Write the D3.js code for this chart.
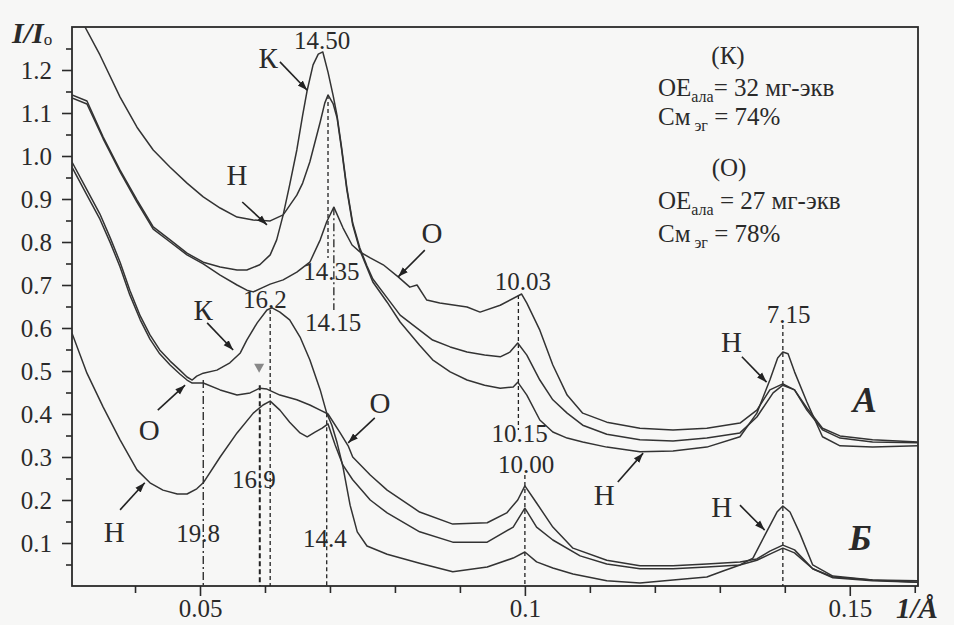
<!DOCTYPE html>
<html>
<head>
<meta charset="utf-8">
<script src="https://cdn.jsdelivr.net/npm/d3@7"></script>
<style>
  body { margin: 0; background: #f7f7f6; }
  svg { display: block; }
</style>
</head>
<body>
<svg width="954" height="625"></svg>
<script>
const width = 954;
const height = 625;
const margin = {top: 27, right: 36, bottom: 39, left: 72};
const FONT = "\"Liberation Serif\", \"Times New Roman\", serif";

// axis ticks
const xTicksMajor = [0.05, 0.1, 0.15];
const xTickLabels = ["0.05", "0.1", "0.15"];
const xTicksMinor = [0.04, 0.06, 0.07, 0.08, 0.09, 0.11, 0.12, 0.13, 0.14, 0.16];
const yTicksMajor = [0.1, 0.2, 0.3, 0.4, 0.5, 0.6, 0.7, 0.8, 0.9, 1.0, 1.1, 1.2];
const yTicksMinor = [0.05, 0.15, 0.25, 0.35, 0.45, 0.55, 0.65, 0.75, 0.85, 0.95, 1.05, 1.15, 1.25];

// group А (upper three patterns)
const curveAH = [[0.0303,1.34],[0.0323,1.300],[0.0346,1.235],[0.0377,1.137],[0.0403,1.067],[0.0428,1.014],[0.0454,0.974],[0.0480,0.937],[0.0505,0.905],[0.0531,0.879],[0.0557,0.858],[0.0582,0.851],[0.0608,0.849],[0.0628,0.863],[0.0649,0.909],[0.0658,0.937],[0.0669,0.986],[0.0685,1.079],[0.0692,1.123],[0.0697,1.142],[0.0705,1.121],[0.0711,1.088],[0.0718,1.014],[0.0726,0.921],[0.0735,0.840],[0.0746,0.781],[0.0757,0.740],[0.0766,0.707],[0.0788,0.660],[0.0808,0.614],[0.0838,0.560],[0.0858,0.526],[0.0885,0.498],[0.0911,0.479],[0.0938,0.467],[0.0962,0.460],[0.0982,0.463],[0.0989,0.474],[0.1003,0.444],[0.1023,0.386],[0.1043,0.358],[0.1065,0.344],[0.1089,0.335],[0.1126,0.323],[0.1177,0.312],[0.1228,0.314],[0.1280,0.323],[0.1331,0.347],[0.1357,0.402],[0.1377,0.479],[0.1389,0.530],[0.1397,0.544],[0.1405,0.540],[0.1415,0.498],[0.1434,0.428],[0.1458,0.347],[0.1485,0.326],[0.1535,0.323],[0.1605,0.326]];
const curveAK = [[0.0303,1.142],[0.0326,1.128],[0.0351,1.044],[0.0377,0.967],[0.0403,0.898],[0.0428,0.835],[0.0454,0.805],[0.0480,0.774],[0.0505,0.753],[0.0531,0.742],[0.0557,0.735],[0.0572,0.735],[0.0592,0.747],[0.0608,0.770],[0.0618,0.805],[0.0628,0.863],[0.0638,0.933],[0.0649,1.014],[0.0658,1.095],[0.0665,1.153],[0.0674,1.212],[0.0682,1.237],[0.0689,1.242],[0.0697,1.195],[0.0705,1.140],[0.0711,1.093],[0.0718,1.019],[0.0726,0.926],[0.0735,0.844],[0.0746,0.786],[0.0757,0.744],[0.0766,0.714],[0.0788,0.670],[0.0808,0.630],[0.0838,0.595],[0.0858,0.572],[0.0885,0.556],[0.0911,0.544],[0.0938,0.537],[0.0962,0.533],[0.0977,0.544],[0.0989,0.565],[0.1003,0.537],[0.1023,0.479],[0.1043,0.433],[0.1065,0.402],[0.1089,0.374],[0.1126,0.353],[0.1177,0.340],[0.1228,0.337],[0.1280,0.344],[0.1331,0.356],[0.1357,0.393],[0.1382,0.449],[0.1397,0.467],[0.1415,0.456],[0.1434,0.409],[0.1458,0.363],[0.1485,0.344],[0.1535,0.335],[0.1605,0.333]];
const curveAO = [[0.0303,1.135],[0.0326,1.121],[0.0351,1.040],[0.0377,0.963],[0.0403,0.893],[0.0428,0.830],[0.0454,0.800],[0.0480,0.770],[0.0505,0.749],[0.0531,0.723],[0.0557,0.700],[0.0572,0.688],[0.0582,0.684],[0.0592,0.691],[0.0608,0.702],[0.0628,0.712],[0.0649,0.730],[0.0669,0.753],[0.0685,0.805],[0.0695,0.847],[0.0706,0.881],[0.0720,0.833],[0.0734,0.793],[0.0746,0.777],[0.0762,0.763],[0.0782,0.747],[0.0805,0.719],[0.0823,0.695],[0.0834,0.700],[0.0849,0.665],[0.0869,0.658],[0.0911,0.649],[0.0931,0.637],[0.0962,0.653],[0.0995,0.679],[0.1003,0.658],[0.1023,0.595],[0.1043,0.514],[0.1065,0.444],[0.1089,0.402],[0.1126,0.381],[0.1177,0.367],[0.1228,0.363],[0.1280,0.367],[0.1331,0.379],[0.1357,0.409],[0.1377,0.456],[0.1397,0.470],[0.1415,0.456],[0.1434,0.414],[0.1458,0.367],[0.1485,0.349],[0.1535,0.340],[0.1605,0.335]];

// group Б (lower three patterns)
const curveBH = [[0.0303,0.588],[0.0326,0.495],[0.0351,0.416],[0.0377,0.340],[0.0403,0.270],[0.0423,0.240],[0.0443,0.223],[0.0465,0.214],[0.0480,0.214],[0.0495,0.226],[0.0505,0.240],[0.0531,0.300],[0.0557,0.356],[0.0582,0.402],[0.0597,0.421],[0.0608,0.430],[0.0623,0.409],[0.0638,0.381],[0.0654,0.356],[0.0665,0.347],[0.0677,0.358],[0.0688,0.367],[0.0697,0.377],[0.0708,0.328],[0.0720,0.281],[0.0735,0.247],[0.0762,0.200],[0.0788,0.170],[0.0838,0.126],[0.0889,0.102],[0.0942,0.102],[0.0982,0.137],[0.1000,0.181],[0.1018,0.137],[0.1043,0.107],[0.1085,0.070],[0.1126,0.051],[0.1177,0.040],[0.1228,0.040],[0.1280,0.044],[0.1331,0.049],[0.1357,0.060],[0.1377,0.074],[0.1397,0.088],[0.1415,0.077],[0.1443,0.040],[0.1474,0.019],[0.1535,0.012],[0.1605,0.009]];
const curveBK = [[0.0303,0.986],[0.0326,0.921],[0.0346,0.865],[0.0362,0.809],[0.0377,0.753],[0.0392,0.688],[0.0408,0.628],[0.0423,0.584],[0.0438,0.549],[0.0454,0.523],[0.0469,0.502],[0.0480,0.486],[0.0488,0.479],[0.0495,0.488],[0.0505,0.495],[0.0526,0.502],[0.0546,0.519],[0.0562,0.542],[0.0572,0.572],[0.0588,0.612],[0.0603,0.642],[0.0611,0.647],[0.0623,0.637],[0.0638,0.619],[0.0654,0.579],[0.0669,0.526],[0.0685,0.456],[0.0695,0.402],[0.0703,0.374],[0.0711,0.333],[0.0720,0.277],[0.0731,0.188],[0.0742,0.126],[0.0757,0.093],[0.0788,0.074],[0.0838,0.053],[0.0889,0.033],[0.0942,0.044],[0.0982,0.065],[0.1000,0.079],[0.1018,0.056],[0.1043,0.042],[0.1074,0.028],[0.1126,0.012],[0.1177,0.007],[0.1228,0.014],[0.1280,0.021],[0.1305,0.035],[0.1331,0.049],[0.1351,0.065],[0.1372,0.126],[0.1388,0.172],[0.1397,0.186],[0.1408,0.172],[0.1423,0.123],[0.1443,0.049],[0.1474,0.023],[0.1535,0.014],[0.1605,0.009]];
const curveBO = [[0.0303,0.974],[0.0326,0.909],[0.0346,0.853],[0.0362,0.798],[0.0377,0.742],[0.0392,0.677],[0.0408,0.619],[0.0423,0.574],[0.0438,0.540],[0.0454,0.514],[0.0469,0.493],[0.0480,0.479],[0.0488,0.472],[0.0505,0.472],[0.0531,0.456],[0.0557,0.444],[0.0577,0.449],[0.0592,0.460],[0.0603,0.458],[0.0623,0.444],[0.0649,0.433],[0.0669,0.421],[0.0685,0.409],[0.0697,0.400],[0.0715,0.358],[0.0728,0.326],[0.0735,0.300],[0.0762,0.258],[0.0788,0.223],[0.0838,0.172],[0.0889,0.144],[0.0942,0.147],[0.0972,0.170],[0.0989,0.200],[0.1000,0.233],[0.1018,0.193],[0.1043,0.137],[0.1074,0.088],[0.1126,0.060],[0.1177,0.047],[0.1228,0.047],[0.1280,0.051],[0.1331,0.056],[0.1357,0.063],[0.1377,0.081],[0.1397,0.095],[0.1415,0.084],[0.1443,0.040],[0.1474,0.021],[0.1535,0.014],[0.1605,0.012]];

const curves = [curveAH, curveAK, curveAO, curveBH, curveBK, curveBO];

// d-spacing reference lines: x, from value, to value, kind
const refLines = [
  {x: 0.0697, y1: 1.142, y2: 0.763, kind: "dash"},
  {x: 0.0706, y1: 0.881, y2: 0.642, kind: "dashdot"},
  {x: 0.0990, y1: 0.677, y2: 0.363, kind: "dash"},
  {x: 0.1000, y1: 0.258, y2: 0, kind: "dash"},
  {x: 0.1397, y1: 0.607, y2: 0, kind: "dash"},
  {x: 0.0505, y1: 0.479, y2: 0, kind: "dashdot"},
  {x: 0.0592, y1: 0.467, y2: 0, kind: "heavy"},
  {x: 0.0608, y1: 0.642, y2: 0, kind: "dash"},
  {x: 0.0695, y1: 0.402, y2: 0, kind: "dash"}
];

const dLabels = ["14.50", "14.35", "14.15", "10.03", "10.15", "10.00", "7.15", "16.2", "16.9", "19.8", "14.4"];
const dLabelX = [0.0688, 0.0702, 0.0705, 0.0997, 0.0992, 0.1002, 0.1406, 0.0600, 0.0583, 0.0497, 0.0692];
const dLabelY = [1.249, 0.712, 0.593, 0.688, 0.335, 0.263, 0.612, 0.647, 0.228, 0.102, 0.091];

// pattern letters with arrows
const letterText = ["К", "Н", "О", "К", "О", "Н", "О", "Н", "Н", "Н"];
const letterPos = [[0.0605,1.205],[0.0557,0.933],[0.0857,0.798],[0.0505,0.619],[0.0422,0.340],[0.0368,0.102],[0.0777,0.402],[0.1122,0.188],[0.1318,0.544],[0.1303,0.160]];
const arrowFrom = [[0.0623,1.219],[0.0565,0.893],[0.0846,0.781],[0.0511,0.612],[0.0435,0.409],[0.0377,0.177],[0.0769,0.391],[0.1143,0.242],[0.1334,0.533],[0.1331,0.188]];
const arrowTo = [[0.0665,1.153],[0.0603,0.840],[0.0805,0.719],[0.0551,0.549],[0.0477,0.467],[0.0415,0.240],[0.0728,0.333],[0.1182,0.309],[0.1372,0.474],[0.1369,0.130]];

const groupNames = ["А", "Б"];
const groupPos = [[0.1523, 0.405], [0.1516, 0.084]];
const markerTri = [0.0591, 0.505];

const svg = d3.select("svg");

const x = d3.scaleLinear().domain([0.0303, 0.1605]).range([margin.left, width - margin.right]);
const y = d3.scaleLinear().domain([0, 1.3]).range([height - margin.bottom, margin.top]);

svg.append("defs").append("clipPath").attr("id", "plot")
  .append("rect")
    .attr("x", margin.left).attr("y", margin.top)
    .attr("width", x.range()[1] - margin.left)
    .attr("height", y.range()[0] - margin.top);

svg.append("defs").append("marker")
    .attr("id", "arrow")
    .attr("viewBox", "0 0 10 10")
    .attr("refX", 10).attr("refY", 5)
    .attr("markerWidth", 10).attr("markerHeight", 10)
    .attr("markerUnits", "userSpaceOnUse")
    .attr("orient", "auto")
  .append("path")
    .attr("d", "M0,1.5L10,5L0,8.5Z")
    .attr("fill", "#222");

// ticks
svg.append("g")
    .attr("transform", `translate(${margin.left},0)`)
    .call(d3.axisLeft(y).tickValues(yTicksMajor).tickSize(10).tickPadding(10).tickFormat(d3.format(".1f")));
svg.append("g")
    .attr("transform", `translate(${margin.left},0)`)
    .call(d3.axisLeft(y).tickValues(yTicksMinor).tickSize(6).tickFormat(""));
svg.append("g")
    .attr("transform", `translate(0,${y(0)})`)
    .call(d3.axisBottom(x).tickValues(xTicksMajor).tickSize(10).tickPadding(3)
      .tickFormat((d, i) => xTickLabels[i]));
svg.append("g")
    .attr("transform", `translate(0,${y(0)})`)
    .call(d3.axisBottom(x).tickValues(xTicksMinor).tickSize(7).tickFormat(""));

svg.selectAll(".domain").remove();
svg.selectAll(".tick line").attr("stroke", "#2a2a2a").attr("stroke-width", 1.6);
svg.selectAll(".tick text").attr("font-size", 25).attr("fill", "#3a3a3a");

// frame
svg.append("rect")
    .attr("x", margin.left).attr("y", margin.top)
    .attr("width", x.range()[1] - margin.left)
    .attr("height", y.range()[0] - margin.top)
    .attr("fill", "none")
    .attr("stroke", "#2a2a2a")
    .attr("stroke-width", 1.8);

// reference lines
const dashFor = {dash: "4,3", dashdot: "8,3,2,3", heavy: "5,3"};
svg.append("g")
  .selectAll("line")
  .data(refLines)
  .join("line")
    .attr("x1", d => x(d.x)).attr("x2", d => x(d.x))
    .attr("y1", d => y(d.y1)).attr("y2", d => y(d.y2))
    .attr("stroke", "#222")
    .attr("stroke-width", d => d.kind === "heavy" ? 2 : 1.3)
    .attr("stroke-dasharray", d => dashFor[d.kind]);

// curves
const line = d3.line().x(d => x(d[0])).y(d => y(d[1]));
svg.append("g")
    .attr("clip-path", "url(#plot)")
  .selectAll("path")
  .data(curves)
  .join("path")
    .attr("d", line)
    .attr("fill", "none")
    .attr("stroke", "#333")
    .attr("stroke-width", 1.5)
    .attr("stroke-linejoin", "round");

// small triangle marker
svg.append("path")
    .attr("transform", `translate(${x(markerTri[0])},${y(markerTri[1])})`)
    .attr("d", "M-5,-5L5,-5L0,4Z")
    .attr("fill", "#888");

// d-spacing labels
svg.append("g")
  .selectAll("text")
  .data(dLabels)
  .join("text")
    .attr("x", (d, i) => x(dLabelX[i]))
    .attr("y", (d, i) => y(dLabelY[i]))
    .attr("text-anchor", "middle")
    .attr("font-size", 25)
    .text(d => d);

// letters and arrows
svg.append("g")
  .selectAll("line")
  .data(arrowFrom)
  .join("line")
    .attr("x1", d => x(d[0])).attr("y1", d => y(d[1]))
    .attr("x2", (d, i) => x(arrowTo[i][0])).attr("y2", (d, i) => y(arrowTo[i][1]))
    .attr("stroke", "#222")
    .attr("stroke-width", 1.6)
    .attr("marker-end", "url(#arrow)");

svg.append("g")
  .selectAll("text")
  .data(letterText)
  .join("text")
    .attr("x", (d, i) => x(letterPos[i][0]))
    .attr("y", (d, i) => y(letterPos[i][1]))
    .attr("text-anchor", "middle")
    .attr("font-size", 29)
    .text(d => d);

svg.append("g")
  .selectAll("text")
  .data(groupNames)
  .join("text")
    .attr("x", (d, i) => x(groupPos[i][0]))
    .attr("y", (d, i) => y(groupPos[i][1]))
    .attr("text-anchor", "middle")
    .attr("font-size", 36)
    .attr("font-weight", "bold")
    .attr("font-style", "italic")
    .text(d => d);

// composition notes
const notes = svg.append("g").attr("font-size", 25);
notes.append("text").attr("x", 728).attr("y", 64).attr("text-anchor", "middle").text("(К)");
notes.append("text").attr("x", 729).attr("y", 176).attr("text-anchor", "middle").text("(О)");

function noteLine(xp, yp, main, sub, rest) {
  const t = notes.append("text").attr("x", xp).attr("y", yp);
  t.append("tspan").text(main);
  t.append("tspan").attr("font-size", 16).attr("dy", 6).text(sub);
  t.append("tspan").attr("dy", -6).text(rest);
}
noteLine(658, 96, "ОЕ", "ала", "= 32 мг-экв");
noteLine(658, 125, "См", " эг", " = 74%");
noteLine(658, 209, "ОЕ", "ала", " = 27 мг-экв");
noteLine(658, 242, "См", " эг", " = 78%");

// axis titles
const yTitle = svg.append("text")
    .attr("x", 12).attr("y", 43)
    .attr("font-size", 30)
    .attr("font-weight", "bold")
    .attr("font-style", "italic");
yTitle.append("tspan").text("I/I");
yTitle.append("tspan").attr("font-size", 17).attr("font-weight", "normal").attr("font-style", "normal").attr("dy", 2).text("o");

svg.append("text")
    .attr("x", 917).attr("y", 618)
    .attr("text-anchor", "middle")
    .attr("font-size", 29)
    .attr("font-weight", "bold")
    .attr("font-style", "italic")
    .text("1/Å");

svg.selectAll("text").style("font-family", FONT).style("fill", "#2a2a2a");
</script>
</body>
</html>
